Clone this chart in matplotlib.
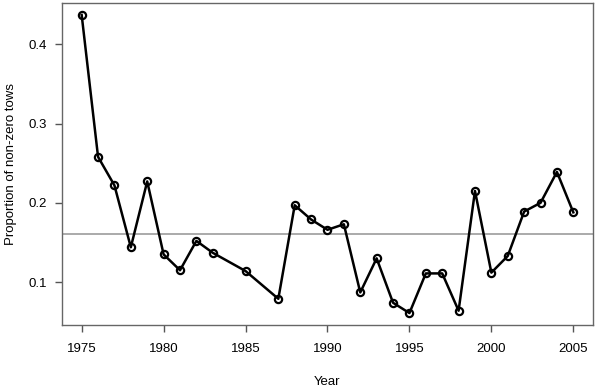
import numpy as np
import matplotlib
matplotlib.use("Agg")
import matplotlib.pyplot as plt

plt.rcParams['font.family'] = ['Liberation Sans', 'DejaVu Sans']

# Data
years = [1975, 1976, 1977, 1978, 1979, 1980, 1981, 1982, 1983, 1985,
         1987, 1988, 1989, 1990, 1991, 1992, 1993, 1994, 1995, 1996,
         1997, 1998, 1999, 2000, 2001, 2002, 2003, 2004, 2005]
prop = [0.437, 0.258, 0.222, 0.144, 0.227, 0.135, 0.115, 0.152, 0.137, 0.114,
        0.079, 0.197, 0.179, 0.166, 0.173, 0.087, 0.130, 0.074, 0.061, 0.111,
        0.111, 0.064, 0.215, 0.112, 0.133, 0.189, 0.200, 0.239, 0.188]
mean_line = 0.1605

xticks = [1975, 1980, 1985, 1990, 1995, 2000, 2005]
yticks = [0.1, 0.2, 0.3, 0.4]

fig = plt.figure(figsize=(5.95, 3.88), dpi=100)
ax = fig.add_axes([0.1042, 0.1624, 0.8924, 0.8299])

ax.axhline(mean_line, color='#aaaaaa', lw=1.4, zorder=1)
ax.plot(years, prop, color='black', lw=1.8, marker='o', ms=5.2,
        mfc='none', mec='black', mew=1.6, zorder=2)

# R style 4% padding
xr = max(years) - min(years)
yr = max(prop) - min(prop)
ax.set_xlim(min(years) - 0.04 * xr, max(years) + 0.04 * xr)
ax.set_ylim(min(prop) - 0.04 * yr, max(prop) + 0.04 * yr)

ax.set_xticks(xticks)
ax.set_yticks(yticks)
ax.set_yticklabels([str(t) for t in yticks])
ax.tick_params(length=5, width=1, color='#555555', labelsize=9.5)
ax.tick_params(axis='x', pad=8)
ax.tick_params(axis='y', pad=6)
for sp in ax.spines.values():
    sp.set_color('#666666')
    sp.set_linewidth(1)

ax.set_xlabel('Year', fontsize=9.5, labelpad=15)
ax.set_ylabel('Proportion of non-zero tows', fontsize=9.5, labelpad=8)

fig.savefig('out.png', dpi=100)
